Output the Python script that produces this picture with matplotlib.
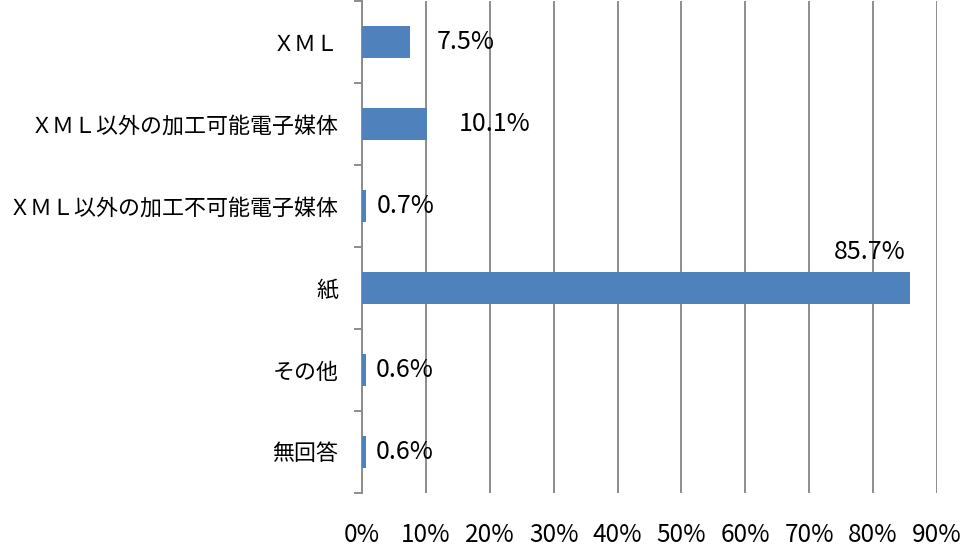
import matplotlib.pyplot as plt
from matplotlib.ticker import MultipleLocator, FixedLocator, PercentFormatter

plt.rcParams['font.family'] = ['Noto Sans CJK JP', 'DejaVu Sans']

categories = ['ＸＭＬ', 'ＸＭＬ以外の加工可能電子媒体', 'ＸＭＬ以外の加工不可能電子媒体',
              '紙', 'その他', '無回答']
values = [7.5, 10.1, 0.7, 85.7, 0.6, 0.6]
# label offsets in pixels (dx, dy) from bar end
label_offsets = [(27, 0), (32, 0), (10, 0), (-76, 36), (10, 0), (10, 0)]

fig = plt.figure(figsize=(9.61, 5.51), dpi=100)
ax = fig.add_axes([0.3767, 0.1053, 0.5983, 0.8927])

pos = list(range(len(categories)))[::-1]
ax.barh(pos, values, height=0.4, color='#4f81bd', zorder=3)

for p, v, (dx, dy) in zip(pos, values, label_offsets):
    ax.annotate(f'{v:.1f}%', xy=(v, p), xytext=(dx * 0.72, dy * 0.72),
                textcoords='offset points', ha='left', va='center',
                fontsize=18, color='black', zorder=4)

ax.set_xlim(0, 90)
ax.set_ylim(-0.5, len(categories) - 0.5)
ax.xaxis.set_major_locator(MultipleLocator(10))
ax.xaxis.set_major_formatter(PercentFormatter(decimals=0))
ax.grid(axis='x', color='#8c8c8c', linewidth=1.4, zorder=0)
ax.set_yticks(pos)
ax.set_yticklabels(categories, fontsize=15.8)
ax.yaxis.set_minor_locator(FixedLocator([i - 0.5 for i in range(len(categories) + 1)]))
ax.tick_params(axis='y', which='major', length=0, pad=17)
ax.tick_params(axis='y', which='minor', length=6, width=1.4, color='#8c8c8c')
ax.tick_params(axis='x', length=0, pad=21, labelsize=17.5)

for s in ['top', 'right', 'bottom']:
    ax.spines[s].set_visible(False)
ax.spines['left'].set_color('#8c8c8c')
ax.spines['left'].set_linewidth(1.4)

fig.savefig('out.png', dpi=100)
